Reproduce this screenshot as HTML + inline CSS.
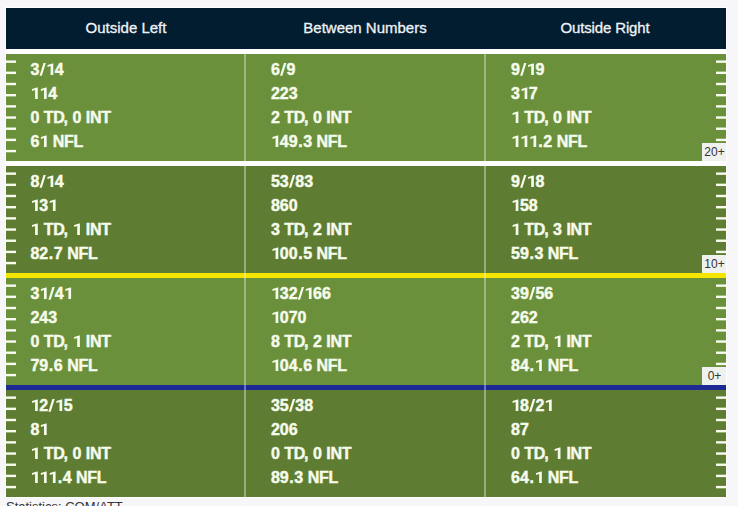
<!DOCTYPE html>
<html><head><meta charset="utf-8">
<style>
html,body{margin:0;padding:0;}
body{width:738px;height:506px;overflow:hidden;background:#f7f7f9;position:relative;font-family:"Liberation Sans",sans-serif;}
.frame{position:absolute;left:5px;top:7px;width:722px;height:491px;background:#fff;}
.hdr{position:absolute;left:6px;top:8px;width:720px;height:41px;background:#031d30;}
.hdr div{position:absolute;top:-1px;width:240px;height:41px;line-height:41px;text-align:center;color:#eef3f8;font-size:15px;-webkit-text-stroke:0.3px #eef3f8;}
.sec{position:absolute;left:6px;width:720px;height:107px;}
.a{background:#6a903b;}
.b{background:#5e7d32;}
.dv{position:absolute;left:6px;width:720px;height:5px;}
.vl{position:absolute;top:54px;width:2px;height:443px;background:rgba(255,255,255,.36);}
.col{position:absolute;top:4px;}
.col div{height:24px;line-height:24px;color:#f6fbec;font-weight:bold;font-size:16px;white-space:nowrap;-webkit-text-stroke:0.45px #f6fbec;}
.col s{text-decoration:none;letter-spacing:-0.3px;}
.col em{font-style:normal;margin-left:-0.9px;}
.col u{text-decoration:none;margin:0 0.6px;}
.col b.o{display:inline-block;position:relative;color:transparent;-webkit-text-stroke-color:transparent;}
.col b.o::before{content:"";position:absolute;left:0;top:0;width:10px;height:24px;background:#f6fbec;clip-path:polygon(7.4px 5.6px,7.4px 17px,4.7px 17px,4.7px 8.1px,1.6px 9.1px,1.6px 7.1px,6.6px 5.6px);}
.col i{font-style:normal;display:inline-block;position:relative;width:6.6px;color:transparent;-webkit-text-stroke-color:transparent;}
.col i::before{content:"";position:absolute;left:0;top:0;width:8px;height:24px;background:#f6fbec;clip-path:polygon(0.2px 17.7px,2.5px 17.7px,6.5px 5px,4.2px 5px);}
.lab{position:absolute;left:696px;top:89px;width:24px;height:18px;background:#eef1ee;color:#333;font-size:12px;line-height:18px;text-align:center;}
.lab span{position:relative;left:0.5px;}
svg{position:absolute;left:0;top:0;}
.stat{position:absolute;left:6px;top:499px;font-size:13px;color:#333;}
</style></head><body>
<div class="frame"></div>
<div class="hdr"><div style="left:0">Outside Left</div><div style="left:239px">Between Numbers</div><div style="left:479px;letter-spacing:-0.14px">Outside Right</div></div>
<div class="sec a" style="top:54px"><svg width="720" height="107" fill="#f8fcef"><rect x="0" y="6.45" width="10" height="2.4"/><rect x="0" y="17.63" width="10" height="2.4"/><rect x="0" y="28.81" width="10" height="2.4"/><rect x="0" y="39.99" width="10" height="2.4"/><rect x="0" y="51.17" width="10" height="2.4"/><rect x="0" y="62.35" width="10" height="2.4"/><rect x="0" y="73.53" width="10" height="2.4"/><rect x="0" y="84.71" width="10" height="2.4"/><rect x="0" y="95.89" width="10" height="2.4"/><rect x="710" y="6.45" width="10" height="2.4"/><rect x="710" y="17.63" width="10" height="2.4"/><rect x="710" y="28.81" width="10" height="2.4"/><rect x="710" y="39.99" width="10" height="2.4"/><rect x="710" y="51.17" width="10" height="2.4"/><rect x="710" y="62.35" width="10" height="2.4"/><rect x="710" y="73.53" width="10" height="2.4"/><rect x="710" y="84.71" width="10" height="2.4"/><rect x="710" y="95.89" width="10" height="2.4"/></svg><div class="col" style="left:24.4px"><div>3<i>/</i><b class="o">1</b>4</div><div><b class="o">1</b><b class="o">1</b>4</div><div class="t">0 <s>TD</s><em>,</em> 0 <s>INT</s></div><div>6<b class="o">1</b> <s>NFL</s></div></div><div class="col" style="left:264.9px"><div>6<i>/</i>9</div><div>223</div><div class="t">2 <s>TD</s><em>,</em> 0 <s>INT</s></div><div><b class="o">1</b>49<u>.</u>3 <s>NFL</s></div></div><div class="col" style="left:505px"><div>9<i>/</i><b class="o">1</b>9</div><div>3<b class="o">1</b>7</div><div class="t"><b class="o">1</b> <s>TD</s><em>,</em> 0 <s>INT</s></div><div><b class="o">1</b><b class="o">1</b><b class="o">1</b><u>.</u>2 <s>NFL</s></div></div><div class="lab"><span>20+</span></div></div>
<div class="sec b" style="top:166px"><svg width="720" height="107" fill="#f8fcef"><rect x="0" y="6.45" width="10" height="2.4"/><rect x="0" y="17.63" width="10" height="2.4"/><rect x="0" y="28.81" width="10" height="2.4"/><rect x="0" y="39.99" width="10" height="2.4"/><rect x="0" y="51.17" width="10" height="2.4"/><rect x="0" y="62.35" width="10" height="2.4"/><rect x="0" y="73.53" width="10" height="2.4"/><rect x="0" y="84.71" width="10" height="2.4"/><rect x="0" y="95.89" width="10" height="2.4"/><rect x="710" y="6.45" width="10" height="2.4"/><rect x="710" y="17.63" width="10" height="2.4"/><rect x="710" y="28.81" width="10" height="2.4"/><rect x="710" y="39.99" width="10" height="2.4"/><rect x="710" y="51.17" width="10" height="2.4"/><rect x="710" y="62.35" width="10" height="2.4"/><rect x="710" y="73.53" width="10" height="2.4"/><rect x="710" y="84.71" width="10" height="2.4"/><rect x="710" y="95.89" width="10" height="2.4"/></svg><div class="col" style="left:24.4px"><div>8<i>/</i><b class="o">1</b>4</div><div><b class="o">1</b>3<b class="o">1</b></div><div class="t"><b class="o">1</b> <s>TD</s><em>,</em> <b class="o">1</b> <s>INT</s></div><div>82<u>.</u>7 <s>NFL</s></div></div><div class="col" style="left:264.9px"><div>53<i>/</i>83</div><div>860</div><div class="t">3 <s>TD</s><em>,</em> 2 <s>INT</s></div><div><b class="o">1</b>00<u>.</u>5 <s>NFL</s></div></div><div class="col" style="left:505px"><div>9<i>/</i><b class="o">1</b>8</div><div><b class="o">1</b>58</div><div class="t"><b class="o">1</b> <s>TD</s><em>,</em> 3 <s>INT</s></div><div>59<u>.</u>3 <s>NFL</s></div></div><div class="lab"><span>10+</span></div></div>
<div class="sec a" style="top:278px"><svg width="720" height="107" fill="#f8fcef"><rect x="0" y="6.45" width="10" height="2.4"/><rect x="0" y="17.63" width="10" height="2.4"/><rect x="0" y="28.81" width="10" height="2.4"/><rect x="0" y="39.99" width="10" height="2.4"/><rect x="0" y="51.17" width="10" height="2.4"/><rect x="0" y="62.35" width="10" height="2.4"/><rect x="0" y="73.53" width="10" height="2.4"/><rect x="0" y="84.71" width="10" height="2.4"/><rect x="0" y="95.89" width="10" height="2.4"/><rect x="710" y="6.45" width="10" height="2.4"/><rect x="710" y="17.63" width="10" height="2.4"/><rect x="710" y="28.81" width="10" height="2.4"/><rect x="710" y="39.99" width="10" height="2.4"/><rect x="710" y="51.17" width="10" height="2.4"/><rect x="710" y="62.35" width="10" height="2.4"/><rect x="710" y="73.53" width="10" height="2.4"/><rect x="710" y="84.71" width="10" height="2.4"/><rect x="710" y="95.89" width="10" height="2.4"/></svg><div class="col" style="left:24.4px"><div>3<b class="o">1</b><i>/</i>4<b class="o">1</b></div><div>243</div><div class="t">0 <s>TD</s><em>,</em> <b class="o">1</b> <s>INT</s></div><div>79<u>.</u>6 <s>NFL</s></div></div><div class="col" style="left:264.9px"><div><b class="o">1</b>32<i>/</i><b class="o">1</b>66</div><div><b class="o">1</b>070</div><div class="t">8 <s>TD</s><em>,</em> 2 <s>INT</s></div><div><b class="o">1</b>04<u>.</u>6 <s>NFL</s></div></div><div class="col" style="left:505px"><div>39<i>/</i>56</div><div>262</div><div class="t">2 <s>TD</s><em>,</em> <b class="o">1</b> <s>INT</s></div><div>84<u>.</u><b class="o">1</b> <s>NFL</s></div></div><div class="lab"><span>0+</span></div></div>
<div class="sec b" style="top:390px"><svg width="720" height="107" fill="#f8fcef"><rect x="0" y="6.45" width="10" height="2.4"/><rect x="0" y="17.63" width="10" height="2.4"/><rect x="0" y="28.81" width="10" height="2.4"/><rect x="0" y="39.99" width="10" height="2.4"/><rect x="0" y="51.17" width="10" height="2.4"/><rect x="0" y="62.35" width="10" height="2.4"/><rect x="0" y="73.53" width="10" height="2.4"/><rect x="0" y="84.71" width="10" height="2.4"/><rect x="0" y="95.89" width="10" height="2.4"/><rect x="710" y="6.45" width="10" height="2.4"/><rect x="710" y="17.63" width="10" height="2.4"/><rect x="710" y="28.81" width="10" height="2.4"/><rect x="710" y="39.99" width="10" height="2.4"/><rect x="710" y="51.17" width="10" height="2.4"/><rect x="710" y="62.35" width="10" height="2.4"/><rect x="710" y="73.53" width="10" height="2.4"/><rect x="710" y="84.71" width="10" height="2.4"/><rect x="710" y="95.89" width="10" height="2.4"/></svg><div class="col" style="left:24.4px"><div><b class="o">1</b>2<i>/</i><b class="o">1</b>5</div><div>8<b class="o">1</b></div><div class="t"><b class="o">1</b> <s>TD</s><em>,</em> 0 <s>INT</s></div><div><b class="o">1</b><b class="o">1</b><b class="o">1</b><u>.</u>4 <s>NFL</s></div></div><div class="col" style="left:264.9px"><div>35<i>/</i>38</div><div>206</div><div class="t">0 <s>TD</s><em>,</em> 0 <s>INT</s></div><div>89<u>.</u>3 <s>NFL</s></div></div><div class="col" style="left:505px"><div><b class="o">1</b>8<i>/</i>2<b class="o">1</b></div><div>87</div><div class="t">0 <s>TD</s><em>,</em> <b class="o">1</b> <s>INT</s></div><div>64<u>.</u><b class="o">1</b> <s>NFL</s></div></div></div>
<div class="dv" style="top:161px;background:#fff"></div>
<div class="dv" style="top:273px;background:#f5e500"></div>
<div class="dv" style="top:385px;background:#1e2a94"></div>
<div class="vl" style="left:244px"></div><div class="vl" style="left:484px"></div>
<div class="stat">Statistics: COM/ATT</div>
</body></html>
